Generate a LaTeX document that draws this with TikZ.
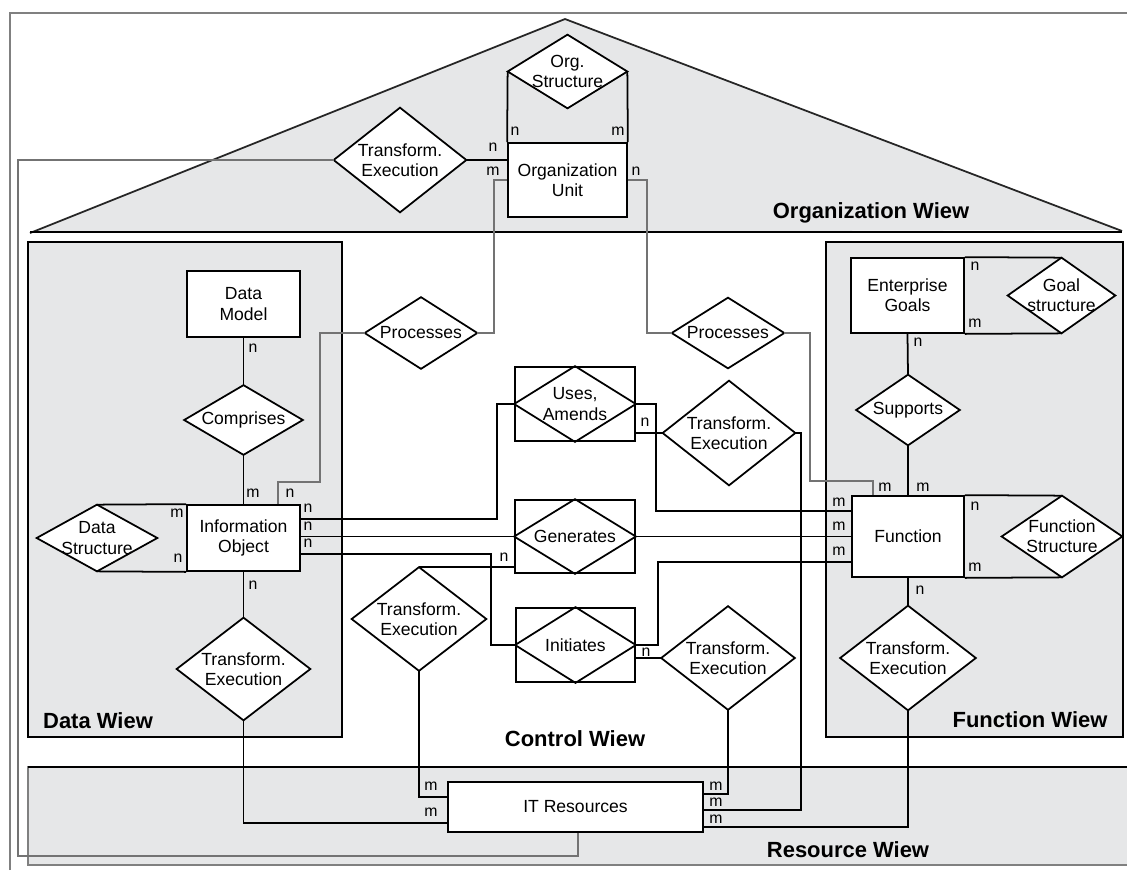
\documentclass[tikz,border=0pt]{standalone}
\usepackage{fontspec}
\setmainfont{Liberation Sans}
\usetikzlibrary{shapes,backgrounds,positioning}
\definecolor{viewgray}{HTML}{E6E7E8}

\begin{document}
\begin{tikzpicture}[x=0.02cm,y=-0.02cm,
  ent/.style={draw, line width=1pt, fill=white, align=center, inner sep=0pt, font=\fontsize{10}{11.5}\selectfont},
  rel/.style={align=center, inner sep=0pt, font=\fontsize{10}{11.5}\selectfont},
  assoc/.style={draw, line width=1pt, align=center, inner sep=0pt, font=\fontsize{10}{11.5}\selectfont},
  card/.style={inner sep=0pt, font=\fontsize{9}{9}\selectfont},
  view/.style={inner sep=0pt, font=\bfseries\fontsize{12.5}{14}\selectfont},
  con/.style={line width=1pt},
  orgcon/.style={line width=1.2pt, color=black!55}]
\useasboundingbox (0,0) rectangle (1127,870);
% organization view
\node[ent, minimum width=2.38cm, minimum height=1.48cm] (orgunit) at (567.5,180) {Organization\\Unit};
\node[rel, minimum width=2.38cm, minimum height=1.46cm] (orgstr) at (567.5,71.5) {Org.\\Structure};
\node[rel, minimum width=2.64cm, minimum height=2.08cm] (orgte) at (400,160) {Transform.\\Execution};
\node[view] (orgview) at (871,213) {Organization Wiew};
% data view
\node[ent, minimum width=2.26cm, minimum height=1.32cm] (datamodel) at (243.5,304) {Data\\Model};
\node[rel, minimum width=2.36cm, minimum height=1.38cm] (comprises) at (243.5,420) {Comprises};
\node[ent, minimum width=2.26cm, minimum height=1.32cm] (infoobj) at (243.5,538) {Information\\Object};
\node[rel, minimum width=2.4cm, minimum height=1.32cm] (datastr) at (97,538) {Data\\Structure};
\node[rel, minimum width=2.66cm, minimum height=2.04cm] (datate) at (243.5,669) {Transform.\\Execution};
\node[view] (dataview) at (98,721) {Data Wiew};
% control view
\node[rel, minimum width=2.24cm, minimum height=1.42cm] (procl) at (421,333) {Processes};
\node[rel, minimum width=2.24cm, minimum height=1.40cm] (procr) at (728,333) {Processes};
\node[assoc, minimum width=2.4cm, minimum height=1.48cm] (uses) at (575,404) {Uses,\\Amends};
\node[assoc, minimum width=2.4cm, minimum height=1.46cm] (generates) at (575,536.5) {Generates};
\node[assoc, minimum width=2.38cm, minimum height=1.48cm] (initiates) at (575.5,645) {Initiates};
\node[rel, minimum width=2.64cm, minimum height=2.08cm] (ctrlteu) at (729,433) {Transform.\\Execution};
\node[rel, minimum width=2.68cm, minimum height=2.06cm] (ctrltel) at (419,619) {Transform.\\Execution};
\node[rel, minimum width=2.66cm, minimum height=2.06cm] (ctrlter) at (728,658) {Transform.\\Execution};
\node[view] (ctrlview) at (575,739) {Control Wiew};
% function view
\node[ent, minimum width=2.26cm, minimum height=1.5cm] (goals) at (907.5,295.5) {Enterprise\\Goals};
\node[rel, minimum width=2.14cm, minimum height=1.5cm] (goalstr) at (1061.5,295.5) {Goal\\structure};
\node[rel, minimum width=2.06cm, minimum height=1.4cm] (supports) at (908,410) {Supports};
\node[ent, minimum width=2.24cm, minimum height=1.62cm] (function) at (908,536.5) {Function};
\node[rel, minimum width=2.4cm, minimum height=1.62cm] (funcstr) at (1062,536.5) {Function\\Structure};
\node[rel, minimum width=2.7cm, minimum height=2.08cm] (functe) at (908,658) {Transform.\\Execution};
\node[view] (funcview) at (1030,720) {Function Wiew};
% resource view
\node[ent, minimum width=5.1cm, minimum height=1.0cm] (itres) at (575.5,807) {IT Resources};
\node[view] (resview) at (848,850) {Resource Wiew};

\foreach \x/\y/\t [count=\i] in {515/131/n, 618/131/m, 493/147/n, 493/171/m, 636/171/n,
  253/348/n, 253/493/m, 290/493/n, 177/513/m, 178/558/n, 308/508/n, 308/526/n, 308/543/n,
  253/585/n, 645/422/n, 504/557/n, 646/652/n, 431/786/m, 431/812/m, 716/786/m, 716/802/m,
  716/819/m, 918/342/n, 885/487/m, 923/487/m, 839/502/m, 839/526/m, 839/551/m,
  975/266/n, 975/323/m, 975/506/n, 975/567/m, 920/590/n}
  \node[card] (c\i) at (\x,\y) {\t};

\draw[con] (orgstr.west) -- (orgunit.north west);
\draw[con] (orgstr.east) -- (orgunit.north east);
\draw[con] (orgte.east) -- (orgte.east -| orgunit.west);
\draw[orgcon] (orgunit.west) -- (494,180) |- (procl.east);
\draw[orgcon] (orgunit.east) -- (647,180) |- (procr.west);
\draw[orgcon] (procl.west) -- (320,333) |- (278,482) -- (278,0 |- infoobj.north);
\draw[orgcon] (procr.east) -- (810,333) |- (873,481) -- (873,0 |- function.north);
\draw[orgcon] (orgte.west) -- (18,160) |- (578,856) -- (578,0 |- itres.south);

\draw[con] (datamodel.south) -- (comprises.north);
\draw[con] (comprises.south) -- (infoobj.north);
\draw[con] (datastr.north) -- (infoobj.north west);
\draw[con] (datastr.south) -- (infoobj.south west);
\draw[con] (infoobj.south) -- (datate.north);
\draw[con] (datate.south) |- (itres.west |- 0,823);

\draw[con] (infoobj.east |- 0,519) -- (497,519) |- (uses.west);
\draw[con] (infoobj.east |- generates.west) -- (generates.west);
\draw[con] (infoobj.east |- 0,554) -- (491,554) |- (initiates.west);
\draw[con] (uses.east) -- (656,404) |- (function.west |- 0,511);
\draw[con] (generates.east) -- (generates.east -| function.west);
\draw[con] (initiates.east) -- (658,645) |- (function.west |- 0,562);
\draw[con] (uses.east |- ctrlteu.west) -- (ctrlteu.west);
\draw[con] (ctrltel.north) -- (ctrltel.north -| generates.west);
\draw[con] (initiates.east |- ctrlter.west) -- (ctrlter.west);
\draw[con] (ctrlteu.east) -- (801,433) |- (itres.east |- 0,810);
\draw[con] (ctrltel.south) |- (itres.west |- 0,797);
\draw[con] (ctrlter.south) |- (itres.east |- 0,794);
\draw[con] (functe.south) |- (itres.east |- 0,827);

\draw[con] (goals.south) -- (supports.north);
\draw[con] (supports.south) -- (function.north);
\draw[con] (goals.north east) -- (goalstr.north);
\draw[con] (goals.south east) -- (goalstr.south);
\draw[con] (function.north east) -- (funcstr.north);
\draw[con] (function.south east) -- (funcstr.south);
\draw[con] (function.south) -- (functe.north);

\begin{scope}[on background layer]
\draw[black!50, line width=1.2pt] (10,870) -- (10,13) -- (1127,13);
\path[fill=viewgray] (30,233) -- (565,19) -- (1122,230) -- cycle;
\draw[black!85, line width=1pt] (30,233) -- (565,19) -- (1122,231);
\draw[line width=1.2pt] (30,232) -- (1122,232);
\draw[line width=1pt, fill=viewgray] (28,242) rectangle (342,737);
\draw[line width=1pt, fill=viewgray] (826,242) rectangle (1123,737);
\draw[black!50, line width=1.2pt, fill=viewgray] (28,767) rectangle (1140,865);
\draw[line width=1pt] (28,767) -- (1127,767);
\foreach \d in {orgstr,orgte,procl,procr,comprises,datastr,datate,uses,generates,initiates,ctrlteu,ctrltel,ctrlter,goalstr,supports,funcstr,functe}
  \draw[line width=1pt, fill=white] (\d.north) -- (\d.east) -- (\d.south) -- (\d.west) -- cycle;
\end{scope}
\end{tikzpicture}
\end{document}
